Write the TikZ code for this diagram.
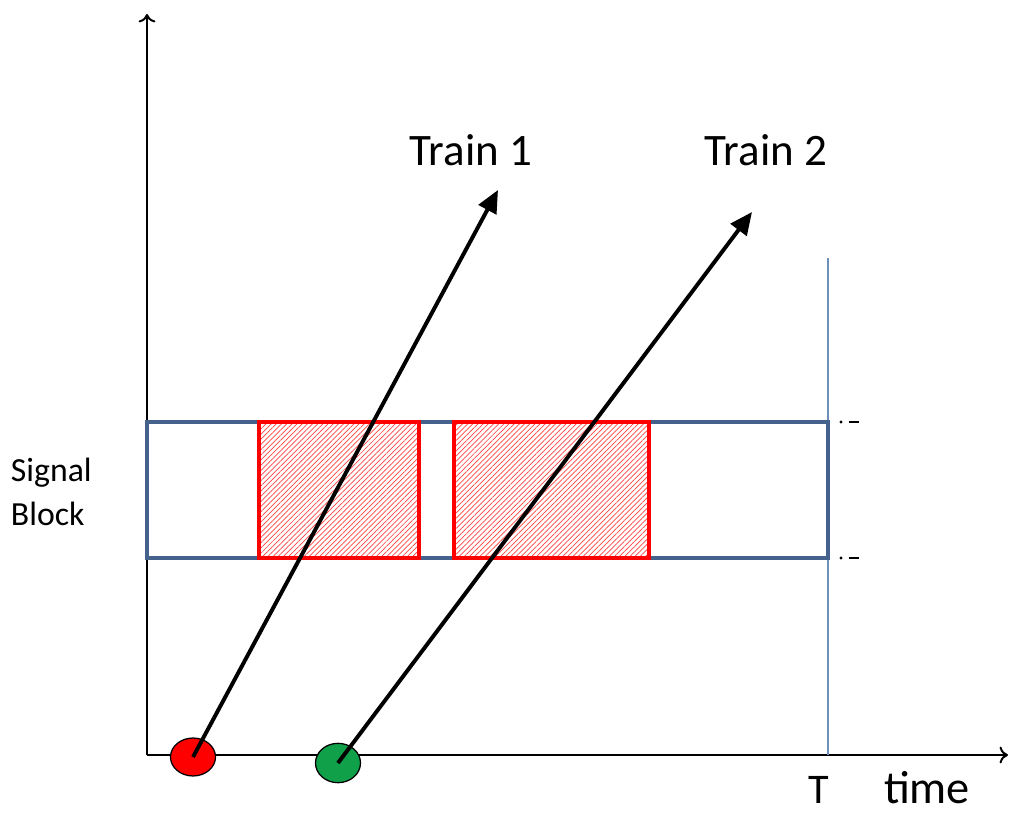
\documentclass[tikz,border=0pt]{standalone}
\usepackage{fontspec}
\setmainfont{Carlito}
\usetikzlibrary{shapes.geometric,patterns.meta,arrows.meta}
\definecolor{blockblue}{HTML}{44628C}
\definecolor{tblue}{HTML}{6E90B8}
\definecolor{startgreen}{HTML}{10A04A}
\begin{document}
\begin{tikzpicture}[x=0.025cm, y=-0.025cm]
  \useasboundingbox (0,0) rectangle (1012,814);

  % axes
  \coordinate (orig) at (147,755);
  \coordinate (ytop) at (147,14);
  \coordinate (xend) at (1008,755);
  \draw[line width=1.4pt, -{To[length=6pt,width=12pt]}] (orig) -- (ytop);
  \draw[line width=1.4pt, -{To[length=6pt,width=12pt]}] (orig) -- (xend);

  % horizon T
  \coordinate (ttop) at (828,258);
  \coordinate (tbot) at (828,755);
  \draw[tblue, line width=1pt] (tbot) -- (ttop);

  % the signal block
  \draw[blockblue, line width=2.8pt] (147,422) rectangle (828,558);

  % occupied time slots, hatched
  \draw[red, line width=2.8pt, pattern={Lines[angle=45, distance=2.6pt, line width=0.5pt]}, pattern color=red!75]
    (259,422) rectangle (419,558);
  \draw[red, line width=2.8pt, pattern={Lines[angle=45, distance=2.6pt, line width=0.5pt]}, pattern color=red!75]
    (454,422) rectangle (649,558);

  % small marks at the right end
  \fill (841,422) circle (1.2pt);
  \draw[line width=1.2pt] (849,422) -- (859,422);
  \fill (841,558) circle (1.2pt);
  \draw[line width=1.2pt] (849,558) -- (859,558);

  % departures
  \node[ellipse, draw, line width=0.9pt, fill=red, minimum width=32pt, minimum height=27pt, inner sep=0pt] (dep1) at (193,757) {};
  \node[ellipse, draw, line width=0.9pt, fill=startgreen, minimum width=32pt, minimum height=28pt, inner sep=0pt] (dep2) at (338,763) {};

  % train paths
  \node[font=\fontsize{32}{36}\selectfont] (train1) at (471,150) {Train 1};
  \node[font=\fontsize{32}{36}\selectfont] (train2) at (766,150) {Train 2};
  \coordinate (tip1) at (498,190);
  \coordinate (tip2) at (752,212);
  \draw[line width=2.8pt, -{Stealth[length=16pt,width=14pt,inset=0pt]}] (dep1.center) -- (tip1);
  \draw[line width=2.8pt, -{Stealth[length=16pt,width=14pt,inset=0pt]}] (dep2.center) -- (tip2);

  % labels
  \node[font=\fontsize{24}{31}\selectfont, align=left, anchor=west] (block) at (6,492) {Signal\\Block};
  \node[font=\fontsize{30}{34}\selectfont, inner sep=0pt] (tlabel) at (819,790) {T};
  \node[font=\fontsize{33}{38}\selectfont, inner sep=0pt] (timelabel) at (927,788) {time};

\end{tikzpicture}
\end{document}
